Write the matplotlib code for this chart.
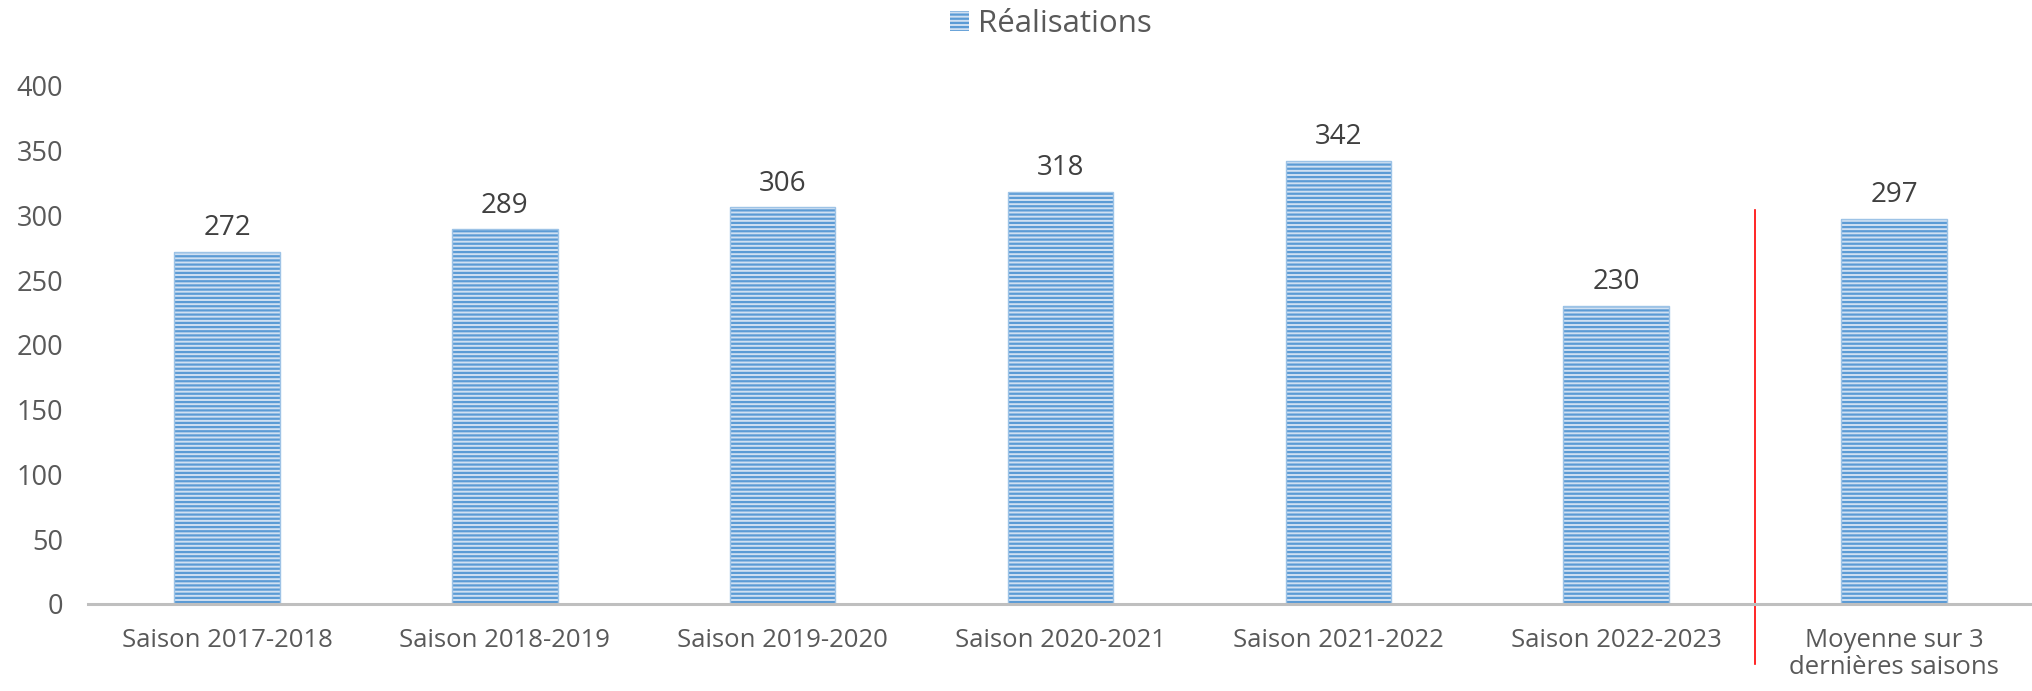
import numpy as np
import matplotlib.pyplot as plt
from matplotlib.patches import Patch

categories = ['Saison 2017-2018', 'Saison 2018-2019', 'Saison 2019-2020',
              'Saison 2020-2021', 'Saison 2021-2022', 'Saison 2022-2023',
              'Moyenne sur 3\ndernières saisons']
values = [272, 289, 306, 318, 342, 230, 297]
series_name = 'Réalisations'

plt.rcParams['font.family'] = ['Open Sans', 'DejaVu Sans']
plt.rcParams['hatch.linewidth'] = 1.6

txt = '#595959'
fig = plt.figure(figsize=(20.33, 6.91), dpi=100)
ax = fig.add_axes([0.0433, 0.126, 0.9567, 0.75])

x = np.arange(len(categories))
# hatch colour follows edgecolor, so draw the hatch first and outline after
ax.bar(x, values, width=0.38, color='#d0e0f2', edgecolor='#5b9bd5',
       hatch='----', linewidth=0)
ax.bar(x, values, width=0.38, fill=False, edgecolor='#9dc3e6', linewidth=1.0)

for xi, v in zip(x, values):
    ax.annotate(str(v), (xi, v), xytext=(0, 7), textcoords='offset points',
                ha='center', va='bottom', fontsize=20, color='#404040')

# separator before the average
ax.plot([5.5, 5.5], [304, -46], color='#ff0000', lw=1.2, clip_on=False)

ax.set_xlim(-0.5, len(categories) - 0.5)
ax.set_ylim(0, 400)
ax.set_yticks(np.arange(0, 401, 50))
ax.set_xticks(x)
ax.set_xticklabels(categories, fontsize=18.5, color=txt, linespacing=1.15)
ax.tick_params(axis='y', length=0, labelsize=19.5, labelcolor=txt, pad=18)
ax.tick_params(axis='x', length=0, pad=17)
for s in ['top', 'right', 'left']:
    ax.spines[s].set_visible(False)
ax.spines['bottom'].set_color('#bfbfbf')
ax.spines['bottom'].set_linewidth(2.2)

handle = Patch(facecolor='#d0e0f2', edgecolor='#5b9bd5', hatch='----',
               linewidth=0, label=series_name)
fig.legend(handles=[handle], loc='center', bbox_to_anchor=(0.517, 0.965),
           frameon=False, fontsize=22.5, labelcolor=txt, handlelength=0.6,
           handleheight=0.6, handletextpad=0.3)

fig.savefig('out.png', dpi=100)
